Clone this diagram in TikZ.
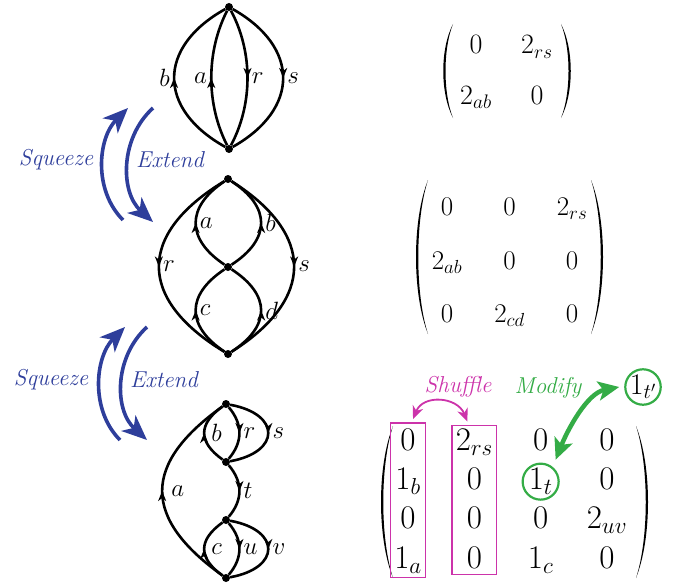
\RequirePackage{fix-cm}
\documentclass[tikz,border=0pt]{standalone}
\usetikzlibrary{positioning, arrows.meta, matrix, fit, calc, decorations.markings}

\definecolor{sqblue}{RGB}{46,62,155}
\definecolor{shufpink}{RGB}{204,51,170}
\definecolor{modgreen}{RGB}{52,172,70}

\begin{document}
\begin{tikzpicture}[
        x=1pt, y=-1pt,
        edge/.style={line width=2.6pt},
        flow/.style={edge, postaction={decorate, decoration={markings,
            mark=at position 0.5 with {\arrow{Stealth[length=10pt, width=8pt, inset=3pt]}}}}},
        vtx/.style={circle, fill=black, inner sep=0pt, minimum size=8pt},
        lbl/.style={inner sep=3pt, font=\fontsize{25}{29}\selectfont},
        move/.style={sqblue, line width=3.6pt, -{Stealth[length=25pt, width=21pt, inset=7pt]}},
        movetext/.style={sqblue, font=\fontsize{23}{27}\selectfont\itshape},
        mat/.style={matrix of math nodes, inner sep=2pt},
        paren/.style={fill=black},
        shufbox/.style={draw=shufpink, line width=1.4pt, inner sep=0pt},
        shufarrow/.style={shufpink, line width=1.8pt, {Stealth[length=13pt, width=11pt, inset=4pt]}-{Stealth[length=13pt, width=11pt, inset=4pt]}},
        modarrow/.style={modgreen, line width=4.5pt, {Stealth[length=21pt, width=19pt, inset=5pt]}-{Stealth[length=21pt, width=19pt, inset=5pt]}}
    ]
    \useasboundingbox (0,0) rectangle (684,583);

    % ========================================================
    % 1. GRAPHS (LEFT)
    % ========================================================

    % -- top graph --
    \node[vtx] (t1) at (229,7) {};
    \node[vtx] (b1) at (229,149) {};
    \draw[flow] (b1) .. controls +(-72,-40) and +(-72,40) .. node[lbl, left] {$b$} (t1);
    \draw[flow] (b1) .. controls +(-23,-45) and +(-23,45) .. node[lbl, left] {$a$} (t1);
    \draw[flow] (t1) .. controls +(24,45) and +(24,-45) .. node[lbl, right] {$r$} (b1);
    \draw[flow] (t1) .. controls +(71,40) and +(71,-40) .. node[lbl, right] {$s$} (b1);

    % -- middle graph --
    \node[vtx] (t2) at (228,179) {};
    \node[vtx] (m2) at (228,267) {};
    \node[vtx] (b2) at (228,354) {};
    \draw[flow] (t2) .. controls +(-91,55) and +(-91,-55) .. node[lbl, right] {$r$} (b2);
    \draw[flow] (t2) .. controls +(87,55) and +(87,-55) .. node[lbl, right] {$s$} (b2);
    \draw[flow] (m2) .. controls +(-42,-28) and +(-42,28) .. node[lbl, right] {$a$} (t2);
    \draw[flow] (m2) .. controls +(43,-28) and +(43,28) .. node[lbl, right] {$b$} (t2);
    \draw[flow] (b2) .. controls +(-42,-28) and +(-42,28) .. node[lbl, right] {$c$} (m2);
    \draw[flow] (b2) .. controls +(43,-28) and +(43,28) .. node[lbl, right] {$d$} (m2);

    % -- bottom graph --
    \node[vtx] (t3) at (226,404) {};
    \node[vtx] (u3) at (226,462) {};
    \node[vtx] (l3) at (226,520) {};
    \node[vtx] (b3) at (226,578) {};
    \draw[flow] (u3) .. controls +(-28,-20) and +(-28,20) .. node[lbl, right, xshift=3pt] {$b$} (t3);
    \draw[flow] (t3) .. controls +(17,20) and +(17,-20) .. node[lbl, right] {$r$} (u3);
    \draw[flow] (t3) .. controls +(55,10) and +(55,-10) .. node[lbl, right] {$s$} (u3);
    \draw[flow] (u3) .. controls +(17,20) and +(17,-20) .. node[lbl, right] {$t$} (l3);
    \draw[flow] (b3) .. controls +(-84,-60) and +(-84,60) .. node[lbl, right, xshift=5pt] {$a$} (t3);
    \draw[flow] (b3) .. controls +(-28,-20) and +(-28,20) .. node[lbl, right, xshift=3pt] {$c$} (l3);
    \draw[flow] (l3) .. controls +(17,20) and +(17,-20) .. node[lbl, right] {$u$} (b3);
    \draw[flow] (l3) .. controls +(55,10) and +(55,-10) .. node[lbl, right] {$v$} (b3);

    % ========================================================
    % 2. SQUEEZE / EXTEND
    % ========================================================
    \coordinate (sq1s) at (123,220);
    \coordinate (sq1e) at (128,108);
    \coordinate (ex1s) at (153,108);
    \coordinate (ex1e) at (153,222);
    \draw[move] (sq1s) .. controls +(-30,-30) and +(-30,30) .. (sq1e);
    \draw[move] (ex1s) .. controls +(-33,30) and +(-33,-30) .. (ex1e);
    \node[movetext] (sq1) at (56,160) {Squeeze};
    \node[movetext] (ex1) at (170,160) {Extend};

    \coordinate (sq2s) at (120,440);
    \coordinate (sq2e) at (125,327);
    \coordinate (ex2s) at (147,327);
    \coordinate (ex2e) at (147,440);
    \draw[move] (sq2s) .. controls +(-30,-30) and +(-30,30) .. (sq2e);
    \draw[move] (ex2s) .. controls +(-33,30) and +(-33,-30) .. (ex2e);
    \node[movetext] (sq2) at (51,380) {Squeeze};
    \node[movetext] (ex2) at (164,380) {Extend};

    % ========================================================
    % 3. MATRICES (RIGHT)
    % ========================================================
    \matrix[mat, font=\fontsize{28}{32}\selectfont,
            nodes={minimum width=40pt, minimum height=44pt, inner sep=0pt},
            column sep=21pt, row sep=4pt] (ma) at (506.5,71) {
        0 & 2_{rs} \\
        2_{ab} & 0 \\
    };
    \fill[paren] (453,24) .. controls +(-13,25) and +(-13,-25) .. (453,118)
                          .. controls +(-10,-25) and +(-10,25) .. (453,24);
    \fill[paren] (561,24) .. controls +(13,25) and +(13,-25) .. (561,118)
                          .. controls +(10,-25) and +(10,25) .. (561,24);

    \matrix[mat, font=\fontsize{27}{31}\selectfont,
            nodes={minimum width=40pt, minimum height=40pt, inner sep=0pt},
            column sep=22.5pt, row sep=11.5pt] (mb) at (509.5,261.5) {
        0 & 0 & 2_{rs} \\
        2_{ab} & 0 & 0 \\
        0 & 2_{cd} & 0 \\
    };
    \fill[paren] (428,180) .. controls +(-16,40) and +(-16,-40) .. (428,334)
                           .. controls +(-13,-40) and +(-13,40) .. (428,180);
    \fill[paren] (591,180) .. controls +(16,40) and +(16,-40) .. (591,334)
                           .. controls +(13,-40) and +(13,40) .. (591,180);

    \matrix[mat, font=\fontsize{33}{37}\selectfont,
            nodes={minimum width=44pt, minimum height=34pt, inner sep=0pt},
            column sep=22.3pt, row sep=2.7pt] (mc) at (507.5,500) {
        0 & 2_{rs} & 0 & 0 \\
        1_b & 0 & 1_t & 0 \\
        0 & 0 & 0 & 2_{uv} \\
        1_a & 0 & 1_c & 0 \\
    };
    \fill[paren] (393,426) .. controls +(-16,40) and +(-16,-40) .. (393,578)
                           .. controls +(-13,-40) and +(-13,40) .. (393,426);
    \fill[paren] (636,426) .. controls +(16,40) and +(16,-40) .. (636,578)
                           .. controls +(13,-40) and +(13,40) .. (636,426);

    % Shuffle
    \node[shufbox, fit=(mc-1-1)(mc-4-1), inner xsep=-4.5pt] (col1) {};
    \node[shufbox, fit=(mc-1-2)(mc-4-2)] (col2) {};
    \node[shufpink, font=\fontsize{23}{27}\selectfont\itshape] (shuf) at (458,387) {Shuffle};
    \draw[shufarrow] ([xshift=5pt, yshift=3pt]col1.north) .. controls +(10,-25) and +(-10,-25) .. ([xshift=-7pt, yshift=3pt]col2.north);

    % Modify
    \node[modgreen, font=\fontsize{23}{27}\selectfont\itshape] (mod) at (548,388) {Modify};
    \node[circle, draw=modgreen, line width=2.2pt, inner sep=0pt, font=\fontsize{30}{34}\selectfont] (tp) at (643,387) {$1_{t'}$};
    \draw[modgreen, line width=2.2pt] (mc-2-3) circle (18pt);
    \coordinate (tq) at ($(mc-2-3)+(15,-22)$);
    \draw[modarrow] ([xshift=-5pt]tp.west) .. controls +(-32,6) and +(12,-30) .. (tq);

\end{tikzpicture}
\end{document}
